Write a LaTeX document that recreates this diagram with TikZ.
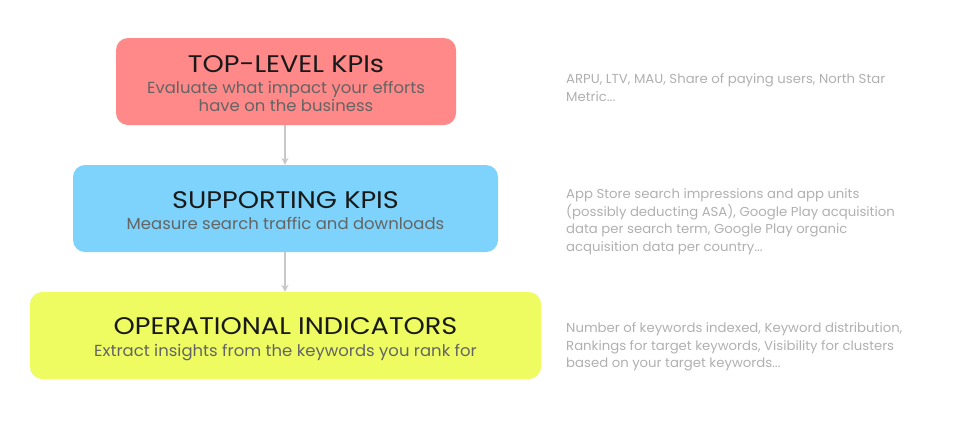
\documentclass[tikz,border=0pt]{standalone}
\usepackage{fontspec}
\setmainfont{Poppins}
\newfontfamily\titlefont[FakeStretch=1.13]{Poppins}
\newfontfamily\subfont[FakeStretch=1.03]{Poppins}
\newfontfamily\notefont[FakeStretch=1.02]{Poppins}
\usetikzlibrary{arrows.meta}
\definecolor{redbox}{HTML}{FF8888}
\definecolor{bluebox}{HTML}{7DD3FB}
\definecolor{yellowbox}{HTML}{EEFC62}
\definecolor{subgray}{HTML}{646464}
\definecolor{notegray}{HTML}{B0B0B0}
\definecolor{arrowgray}{HTML}{C8C8C8}
\tikzset{
  kpibox/.style={rounded corners=12pt, inner sep=0pt, minimum height=87pt},
  kpititle/.style={anchor=base, inner sep=0pt, text=black!90, font=\titlefont\fontsize{24}{28}\selectfont},
  kpisub/.style={anchor=base, inner sep=0pt, text=subgray, align=center, font=\subfont\fontsize{16}{18.5}\selectfont},
  kpinote/.style={anchor=base west, inner sep=0pt, text=notegray, align=left, font=\notefont\fontsize{13}{17.4}\selectfont},
  flow/.style={draw=arrowgray, line width=1.6pt, -{Stealth[length=7pt,width=7pt]}}
}
\begin{document}
\begin{tikzpicture}[x=1pt,y=-1pt]
\useasboundingbox (0,0) rectangle (960,432);
% boxes
\node[kpibox, fill=redbox, minimum width=340pt] (top) at (286,81.5) {};
\node[kpibox, fill=bluebox, minimum width=425pt] (sup) at (285.5,208.5) {};
\node[kpibox, fill=yellowbox, minimum width=511pt] (op) at (285.5,335.5) {};
% texts
\node[kpititle] (toptitle) at (286,72) {TOP-LEVEL KPIs};
\node[kpisub] (topsub) at (286,111.5) {Evaluate what impact your efforts\\have on the business};
\node[kpititle] (suptitle) at (285.5,208.5) {SUPPORTING KPIS};
\node[kpisub] (supsub) at (285.5,229.5) {Measure search traffic and downloads};
\node[kpititle] (optitle) at (285.5,334.5) {OPERATIONAL INDICATORS};
\node[kpisub] (opsub) at (285.5,356) {Extract insights from the keywords you rank for};
% notes
\node[kpinote] (note1) at (566,101) {ARPU, LTV, MAU, Share of paying users, North Star\\Metric...};
\node[kpinote] (note2) at (566,251) {App Store search impressions and app units\\(possibly deducting ASA), Google Play acquisition\\data per search term, Google Play organic\\acquisition data per country...};
\node[kpinote] (note3) at (566,367.5) {Number of keywords indexed, Keyword distribution,\\Rankings for target keywords, Visibility for clusters\\based on your target keywords...};
% connectors
\draw[flow] (top.south -| 285,0) -- (sup.north -| 285,0);
\draw[flow] (sup.south -| 285,0) -- (op.north -| 285,0);
\end{tikzpicture}
\end{document}
